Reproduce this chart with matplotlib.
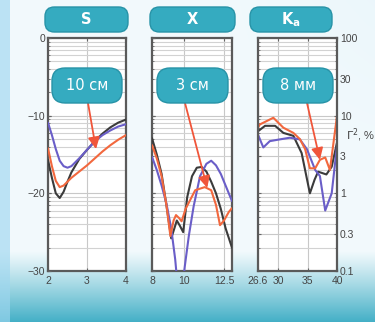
import numpy as np
import matplotlib
matplotlib.use("Agg")
import matplotlib.pyplot as plt
from matplotlib.patches import FancyBboxPatch

# ---- data ----
s_x = [2.0, 2.1, 2.2, 2.3, 2.4, 2.5, 2.6, 2.8, 3.0, 3.2, 3.4, 3.6, 3.8, 4.0]
s_black = [-15.7, -18.0, -20.0, -20.6, -19.8, -18.5, -17.3, -15.6, -14.4, -13.3, -12.3, -11.5, -10.9, -10.5]
s_blue = [-10.9, -12.5, -14.3, -15.8, -16.5, -16.7, -16.5, -15.5, -14.4, -13.3, -12.5, -11.9, -11.4, -11.1]
s_red = [-14.2, -16.5, -18.4, -19.2, -19.0, -18.5, -18.0, -17.2, -16.4, -15.5, -14.6, -13.8, -13.1, -12.5]

x_black_x = [8.0, 8.3, 8.6, 8.9, 9.2, 9.4, 9.55, 9.75, 9.95, 10.2, 10.5, 10.8, 11.1, 11.4, 11.7, 12.0, 12.3, 12.6, 13.0]
x_black = [-12.9, -15.0, -17.5, -21.5, -25.8, -24.5, -23.5, -24.2, -25.0, -20.5, -17.8, -16.7, -16.6, -17.2, -18.5, -20.0, -22.0, -24.5, -27.0]
x_blue_x = [8.0, 8.3, 8.6, 8.9, 9.2, 9.45, 9.65, 9.85, 10.05, 10.3, 10.6, 11.0, 11.4, 11.7, 12.0, 12.3, 12.6, 13.0]
x_blue = [-15.3, -17.0, -19.0, -21.3, -24.5, -28.5, -33.0, -33.0, -29.4, -25.5, -21.7, -17.8, -16.2, -15.8, -16.4, -17.5, -19.0, -21.0]
x_red_x = [8.0, 8.3, 8.6, 8.9, 9.15, 9.35, 9.5, 9.7, 9.85, 10.1, 10.4, 10.7, 11.0, 11.3, 11.7, 12.0, 12.25, 12.5, 12.8, 13.0]
x_red = [-13.8, -15.5, -17.8, -21.5, -25.5, -23.5, -22.8, -23.2, -23.6, -22.0, -20.8, -19.6, -19.4, -19.2, -19.6, -21.5, -24.1, -23.5, -22.4, -21.9]

k_black_x = [26.6, 27.8, 29.5, 30.9, 32.6, 34.0, 35.4, 36.2, 36.8, 38.2, 39.1, 40.0]
k_black = [6.3, 7.4, 7.4, 6.0, 5.5, 3.3, 1.0, 1.5, 1.9, 1.75, 2.2, 4.5]
k_blue_x = [26.6, 27.5, 28.6, 30.3, 32.0, 33.7, 34.9, 36.3, 37.1, 38.0, 39.1, 40.0]
k_blue = [5.7, 3.9, 4.7, 4.95, 5.2, 4.95, 3.7, 2.0, 1.67, 0.6, 1.0, 4.1]
k_red_x = [26.6, 26.9, 29.2, 30.9, 32.6, 33.7, 34.6, 35.4, 36.3, 37.1, 38.0, 38.8, 40.0]
k_red = [7.0, 7.7, 9.4, 7.0, 6.0, 5.0, 3.7, 2.1, 2.1, 2.7, 2.9, 2.0, 9.9]

band_names = ["S", "X", "K$_\\mathregular{a}$"]
wave_labels = ["10 см", "3 см", "8 мм"]
left_ticks = [0, -10, -20, -30]
log_ticks = [0.1, 0.3, 1, 3, 10, 30, 100]
log_labels = ["0.1", "0.3", "1", "3", "10", "30", "100"]

BLACK, BLUE, RED = "#3b3b3b", "#6a5ec8", "#f2683e"
TEAL, TEAL_EDGE = "#35abc0", "#2793a7"
W, H = 375, 322

plt.rcParams["font.family"] = ["Liberation Sans", "DejaVu Sans"]
fig = plt.figure(figsize=(W / 100, H / 100), dpi=100)


def fx(px):
    return px / W


def fy(py):
    return 1 - py / H


# background gradient
bg = fig.add_axes([0, 0, 1, 1], zorder=-10)
yy = np.linspace(0, 1, H)[:, None]
xx = np.linspace(0, 1, W)[None, :]
img = np.ones((H, W, 3)) * np.array([0.95, 0.98, 0.99])
tint = np.clip((xx - 0.55) * 1.6, 0, 1) * np.clip(1 - yy * 1.8, 0, 1)
img = img * (1 - 0.15 * tint[..., None]) + 0.15 * tint[..., None] * np.array([0.72, 0.87, 0.96])
b = np.clip((yy - 0.78) / 0.22, 0, 1) ** 1.1
b = np.broadcast_to(b, (H, W))
img = img * (1 - b[..., None]) + b[..., None] * np.array([0.27, 0.69, 0.78])
strip = np.broadcast_to(xx * W < 10, (H, W))
img[strip] = img[strip] * 0.35 + np.array([0.62, 0.84, 0.94]) * 0.65
bg.imshow(img, aspect="auto", extent=[0, 1, 0, 1])
bg.axis("off")

panels = [(48, 126), (152, 232), (258, 337)]
xlims = [(2, 4), (8, 13), (26.6, 40)]
xticks = [[2, 3, 4], [8, 10, 12.5], [26.6, 30, 35, 40]]
xticklabels = [["2", "3", "4"], ["8", "10", "12.5"], ["26.6", "30", "35", "40"]]
series = [
    [(s_x, s_black, BLACK), (s_x, s_blue, BLUE), (s_x, s_red, RED)],
    [(x_black_x, x_black, BLACK), (x_blue_x, x_blue, BLUE), (x_red_x, x_red, RED)],
    [(k_black_x, k_black, BLACK), (k_blue_x, k_blue, BLUE), (k_red_x, k_red, RED)],
]
arrow_tips = [(3.23, -14.3), (11.45, -19.3), (37.1, 2.7)]
arrow_from = [(88, 103), (185, 103), (307, 103)]

top, bottom = 38, 271
for i, (l, r) in enumerate(panels):
    ax = fig.add_axes([fx(l), fy(bottom), (r - l) / W, (bottom - top) / H])
    ax.set_facecolor("white")
    ax.set_yscale("log")
    ax.set_ylim(0.1, 100)
    ax.set_xlim(*xlims[i])
    ax.set_xticks(xticks[i])
    ax.set_xticklabels(xticklabels[i])
    if i == 2:
        ax.set_yticks(log_ticks)
        ax.set_yticklabels(log_labels)
    ax.tick_params(which="both", direction="in", top=True, right=True, left=True,
                   labelsize=7.5, labelcolor="#444444", color="#666666", length=2.5)
    ax.tick_params(which="minor", length=1.5)
    ax.yaxis.grid(True, which="major", color="#c8c8c8", lw=0.8)
    ax.yaxis.grid(True, which="minor", color="#d2d2d2", lw=0.8)
    ax.xaxis.grid(True, which="major", color="#c8c8c8", lw=0.8)
    for sp in ax.spines.values():
        sp.set_color("#5a5a5a")
        sp.set_linewidth(1.6)
    if i < 2:
        ax.tick_params(axis="y", which="both", labelleft=False, labelright=False)
        tw = ax.twinx()
        tw.set_ylim(-30, 0)
        tw.yaxis.tick_left()
        tw.set_yticks(left_ticks)
        tw.tick_params(direction="in", labelsize=7.5, labelcolor="#444444",
                       color="#666666", length=2.5, labelleft=(i == 0), pad=2)
        for sp in tw.spines.values():
            sp.set_visible(False)
        draw_ax = tw
    else:
        ax.tick_params(axis="y", which="both", labelleft=False, labelright=True, pad=2)
        draw_ax = ax
    for xs, ys, c in series[i]:
        draw_ax.plot(xs, ys, color=c, lw=1.5, solid_capstyle="round")
    draw_ax.set_xlim(*xlims[i])
    draw_ax.annotate("", xy=arrow_tips[i], xycoords="data",
                     xytext=(fx(arrow_from[i][0]), fy(arrow_from[i][1])),
                     textcoords="figure fraction", annotation_clip=False,
                     arrowprops=dict(arrowstyle="-|>,head_length=0.7,head_width=0.35",
                                     color="#f0553a", lw=1.3, shrinkA=0, shrinkB=0),
                     zorder=10)

# header boxes and wavelength boxes
headers = [(45, 128), (150, 235), (250, 332)]
for (l, r), name in zip(headers, band_names):
    box = FancyBboxPatch((fx(l), fy(32)), (r - l) / W, 25 / H, transform=fig.transFigure,
                         boxstyle="round,pad=0,rounding_size=0.025",
                         mutation_aspect=W / H, fc=TEAL, ec=TEAL_EDGE, lw=1.0, zorder=5)
    fig.add_artist(box)
    fig.text(fx((l + r) / 2), fy(19.5), name, color="white", fontsize=10.5, fontweight="bold",
             ha="center", va="center", zorder=6, family=["DejaVu Sans"])

wboxes = [(52, 122), (157, 228), (263, 333)]
for (l, r), lab in zip(wboxes, wave_labels):
    box = FancyBboxPatch((fx(l), fy(103)), (r - l) / W, 35 / H, transform=fig.transFigure,
                         boxstyle="round,pad=0,rounding_size=0.035",
                         mutation_aspect=W / H, fc=TEAL, ec=TEAL_EDGE, lw=1.0, zorder=5)
    fig.add_artist(box)
    fig.text(fx((l + r) / 2), fy(86), lab, color="white", fontsize=10.5,
             ha="center", va="center", zorder=6, family=["DejaVu Sans"])

fig.text(fx(346), fy(135), "$\\mathit{Γ}^2$, %", fontsize=8, color="#444444",
         ha="left", va="center")

fig.savefig("out.png", dpi=100)
